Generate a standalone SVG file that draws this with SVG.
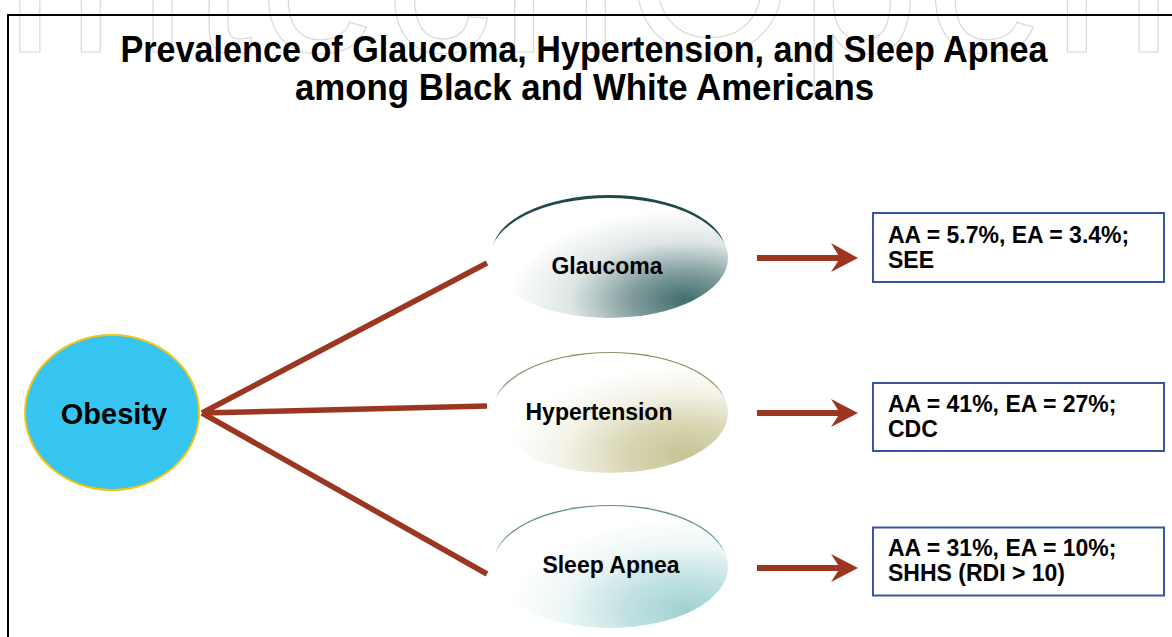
<svg xmlns="http://www.w3.org/2000/svg" width="1172" height="637" viewBox="0 0 1172 637">
  <style>
    .wm { font-family: "Liberation Sans", Arial, sans-serif; font-size: 215px; fill: #ffffff; stroke: #d9d9d9; stroke-width: 1.2; }
    .title { font-family: "Liberation Sans", Arial, sans-serif; font-size: 37px; font-weight: bold; fill: #000; text-anchor: middle; }
    .node { font-family: "Liberation Sans", Arial, sans-serif; font-size: 23px; font-weight: bold; fill: #000; text-anchor: middle; }
    .big { font-size: 29px; }
    .box { fill: #ffffff; stroke: #3a54a4; stroke-width: 2; }
    .boxtext { font-family: "Liberation Sans", Arial, sans-serif; font-size: 23px; font-weight: bold; fill: #000; }
    .link { stroke: #9b3720; stroke-width: 5.5; stroke-linecap: butt; fill: none; }
    .shaft { stroke: #9b3720; stroke-width: 6; fill: none; }
    .head { fill: #9b3720; }
  </style>
  <defs>
    <radialGradient id="gGla" cx="0.82" cy="0.85" r="0.75" fx="0.82" fy="0.85">
      <stop offset="0" stop-color="#3f6e6d"/>
      <stop offset="0.3" stop-color="#7f9c9b"/>
      <stop offset="0.65" stop-color="#dfe6e6"/>
      <stop offset="1" stop-color="#ffffff"/>
    </radialGradient>
    <radialGradient id="gHyp" cx="0.82" cy="0.85" r="0.75" fx="0.82" fy="0.85">
      <stop offset="0" stop-color="#c6c493"/>
      <stop offset="0.35" stop-color="#d8d6b3"/>
      <stop offset="0.7" stop-color="#f4f3e8"/>
      <stop offset="1" stop-color="#ffffff"/>
    </radialGradient>
    <radialGradient id="gSle" cx="0.82" cy="0.85" r="0.75" fx="0.82" fy="0.85">
      <stop offset="0" stop-color="#a0d2d2"/>
      <stop offset="0.35" stop-color="#c2e2e2"/>
      <stop offset="0.7" stop-color="#eef7f7"/>
      <stop offset="1" stop-color="#ffffff"/>
    </radialGradient>
  </defs>

  <rect x="0" y="0" width="1172" height="637" fill="#ffffff"/>

  <g id="watermark">
    <text class="wm" x="0" y="52" textLength="1172" lengthAdjust="spacing">IntechOpen</text>
  </g>

  <g id="frame">
    <path d="M8,637 V15 H1172" fill="none" stroke="#000" stroke-width="2"/>
  </g>

  <g id="title">
    <text class="title" x="584" y="62" textLength="927" lengthAdjust="spacingAndGlyphs">Prevalence of Glaucoma, Hypertension, and Sleep Apnea</text>
    <text class="title" x="584.5" y="100" textLength="579" lengthAdjust="spacingAndGlyphs">among Black and White Americans</text>
  </g>

  <g id="connectors">
    <line class="link" x1="202" y1="413" x2="487" y2="263"/>
    <line class="link" x1="202" y1="413" x2="487" y2="406"/>
    <line class="link" x1="202" y1="413" x2="487" y2="574"/>
    <g id="arrow-glaucoma">
      <line class="shaft" x1="757" y1="258" x2="842" y2="258"/>
      <polygon class="head" points="858,258 831,243 840,258 831,272"/>
    </g>
    <g id="arrow-hypertension">
      <line class="shaft" x1="757" y1="413" x2="842" y2="413"/>
      <polygon class="head" points="858,413 831,399 840,413 831,427"/>
    </g>
    <g id="arrow-sleep">
      <line class="shaft" x1="757" y1="568" x2="842" y2="568"/>
      <polygon class="head" points="858,568 831,554 840,568 831,582"/>
    </g>
  </g>

  <g id="obesity">
    <ellipse cx="112" cy="412.5" rx="87" ry="77.5" fill="#35c5f0" stroke="#f0c419" stroke-width="2"/>
    <text class="node big" x="114" y="424">Obesity</text>
  </g>

  <g id="glaucoma">
    <ellipse cx="609" cy="253" rx="117" ry="58" fill="#21494a"/>
    <ellipse cx="609" cy="258" rx="119" ry="60" fill="url(#gGla)"/>
    <text class="node" x="607" y="274">Glaucoma</text>
  </g>

  <g id="hypertension">
    <ellipse cx="610" cy="408" rx="116" ry="56" fill="#8e8e66"/>
    <ellipse cx="610" cy="413" rx="118" ry="60" fill="url(#gHyp)"/>
    <text class="node" x="599" y="420">Hypertension</text>
  </g>

  <g id="sleep-apnea">
    <ellipse cx="610" cy="562" rx="116" ry="57" fill="#5f8e8c"/>
    <ellipse cx="610" cy="567" rx="118" ry="61" fill="url(#gSle)"/>
    <text class="node" x="611" y="573">Sleep Apnea</text>
  </g>

  <g id="box-glaucoma">
    <rect class="box" x="873" y="213" width="291" height="69"/>
    <text class="boxtext" x="888" y="243">AA = 5.7%, EA = 3.4%;</text>
    <text class="boxtext" x="888" y="268">SEE</text>
  </g>

  <g id="box-hypertension">
    <rect class="box" x="873" y="383" width="291" height="68"/>
    <text class="boxtext" x="888" y="412">AA = 41%, EA = 27%;</text>
    <text class="boxtext" x="888" y="437">CDC</text>
  </g>

  <g id="box-sleep">
    <rect class="box" x="873" y="527.5" width="291" height="68"/>
    <text class="boxtext" x="888" y="556">AA = 31%, EA = 10%;</text>
    <text class="boxtext" x="888" y="581">SHHS (RDI &gt; 10)</text>
  </g>
</svg>
